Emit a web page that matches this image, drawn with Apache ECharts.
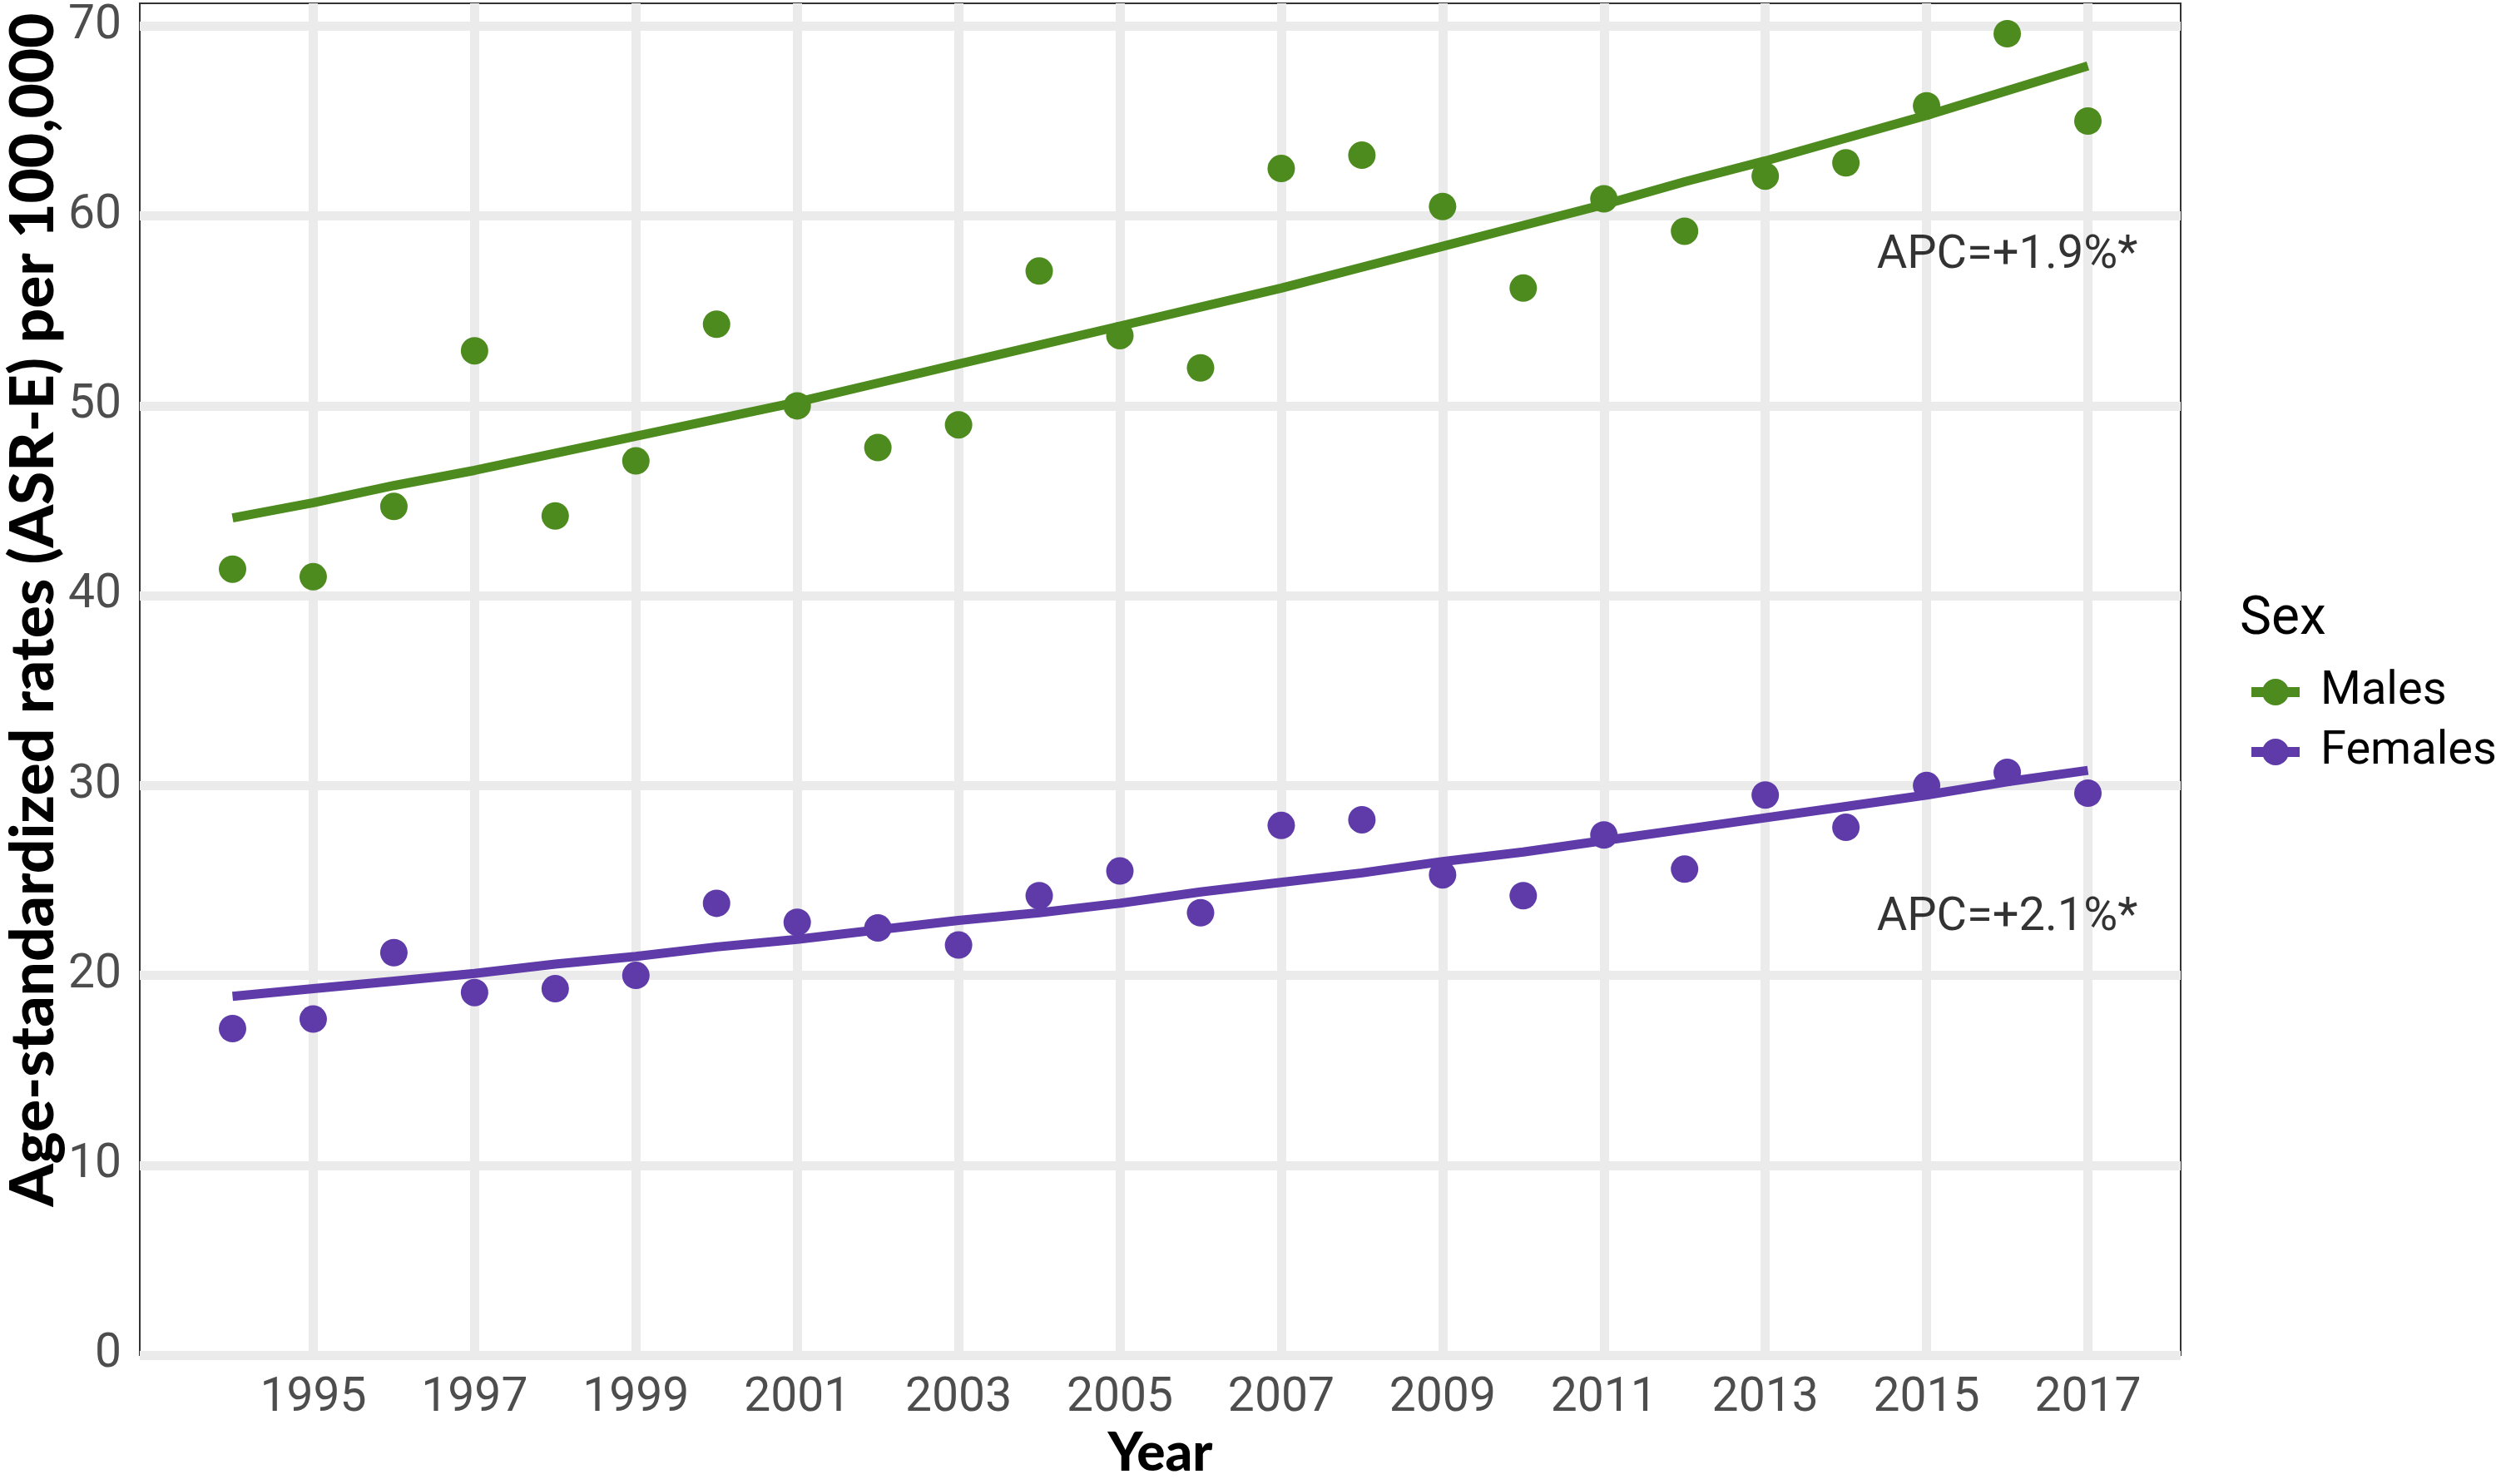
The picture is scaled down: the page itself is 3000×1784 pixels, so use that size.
<!DOCTYPE html>
<html>
<head>
<meta charset="utf-8">
<script src="https://cdn.jsdelivr.net/npm/echarts@6/dist/echarts.min.js"></script>
<style>
  html, body { margin: 0; padding: 0; background: #ffffff; }
  #chart { width: 3000px; height: 1784px; }
</style>
</head>
<body>
<div id="chart"></div>
<script>
// ---------- data ----------
const years = [1994, 1995, 1996, 1997, 1998, 1999, 2000, 2001, 2002, 2003, 2004, 2005,
               2006, 2007, 2008, 2009, 2010, 2011, 2012, 2013, 2014, 2015, 2016, 2017];
const malesObserved = [41.4, 41.0, 44.7, 52.9, 44.2, 47.1, 54.3, 50.0, 47.8, 49.0, 57.1, 53.7,
                       52.0, 62.5, 63.2, 60.5, 56.2, 60.9, 59.2, 62.1, 62.8, 65.8, 69.6, 65.0];
const femalesObserved = [17.2, 17.7, 21.2, 19.1, 19.3, 20.0, 23.8, 22.8, 22.5, 21.6, 24.2, 25.5,
                         23.3, 27.9, 28.2, 25.3, 24.2, 27.4, 25.6, 29.5, 27.8, 30.0, 30.7, 29.6];
const malesFitted = [44.1, 44.9, 45.8, 46.6, 47.5, 48.4, 49.3, 50.2, 51.2, 52.2, 53.2, 54.2,
                     55.2, 56.2, 57.3, 58.4, 59.5, 60.6, 61.8, 62.9, 64.1, 65.3, 66.6, 67.9];
const femalesFitted = [18.9, 19.3, 19.7, 20.1, 20.6, 21.0, 21.5, 21.9, 22.4, 22.9, 23.3, 23.8,
                       24.4, 24.9, 25.4, 26.0, 26.5, 27.1, 27.7, 28.3, 28.9, 29.5, 30.2, 30.8];
const seriesNames = ['Males', 'Females'];
const xTickLabels = [1995, 1997, 1999, 2001, 2003, 2005, 2007, 2009, 2011, 2013, 2015, 2017];
const yTickLabels = [0, 10, 20, 30, 40, 50, 60, 70];
const apcTexts = ['APC=+1.9%*', 'APC=+2.1%*'];
const apcX = [2016, 2016];
const apcY = [57.9, 23];
const legendTitle = 'Sex';
const xTitle = 'Year';
const yTitle = 'Age-standardized rates (ASR-E) per 100,000';

// ---------- styling ----------
const colors = ['#4d8b1f', '#5e3ba9'];
const gridColor = '#ebebeb';
const tickColor = '#4d4d4d';

const pairs = (xs, ys) => xs.map((x, i) => [x, ys[i]]);

const chart = echarts.init(document.getElementById('chart'), null, { renderer: 'canvas' });

const option = {
  backgroundColor: '#ffffff',
  animation: false,
  grid: {
    left: 168, right: 379, top: 4, bottom: 136,
    show: true, borderColor: '#333333', borderWidth: 2, backgroundColor: 'transparent'
  },
  xAxis: {
    type: 'value',
    min: 1992.85, max: 2018.15,
    name: xTitle,
    nameLocation: 'middle',
    nameGap: 79,
    nameTextStyle: { fontFamily: 'Lato', fontWeight: 900, fontSize: 64, color: '#000000' },
    axisLine: { show: false },
    axisTick: { show: false, customValues: xTickLabels },
    axisLabel: {
      customValues: xTickLabels,
      fontFamily: 'Roboto', fontSize: 57, color: tickColor, margin: 24,
      formatter: v => String(v)
    },
    splitLine: { show: true, lineStyle: { color: gridColor, width: 11 } }
  },
  yAxis: {
    type: 'value',
    min: 0, max: 71.2,
    axisLine: { show: false },
    axisTick: { show: false, customValues: yTickLabels },
    axisLabel: {
      customValues: yTickLabels,
      fontFamily: 'Roboto', fontSize: 57, color: tickColor, margin: 22,
      formatter: v => String(v)
    },
    splitLine: { show: true, lineStyle: { color: gridColor, width: 11 } }
  },
  legend: {
    data: seriesNames,
    orient: 'vertical',
    left: 2700,
    top: 804,
    padding: 0,
    itemWidth: 58,
    itemHeight: 40,
    itemGap: 16,
    lineStyle: { width: 12 },
    textStyle: { fontFamily: 'Roboto', fontSize: 56, color: '#000000', lineHeight: 56, padding: [0, 0, 0, 20] }
  },
  graphic: [
    {
      type: 'text', x: 40, y: 733, rotation: Math.PI / 2,
      style: { text: yTitle, fontFamily: 'Lato', fontWeight: 900, fontSize: 73, fill: '#000000',
               textAlign: 'center', textVerticalAlign: 'middle' }
    },
    {
      type: 'text', x: 2692, y: 746,
      style: { text: legendTitle, fontFamily: 'Roboto', fontSize: 64, fill: '#000000',
               textAlign: 'left', textVerticalAlign: 'middle' }
    }
  ],
  series: [
    {
      name: 'Males observed', type: 'scatter', data: pairs(years, malesObserved),
      symbol: 'circle', symbolSize: 33, itemStyle: { color: colors[0], opacity: 1 }, z: 2
    },
    {
      name: 'Females observed', type: 'scatter', data: pairs(years, femalesObserved),
      symbol: 'circle', symbolSize: 33, itemStyle: { color: colors[1], opacity: 1 }, z: 2
    },
    {
      name: seriesNames[0], type: 'line', data: pairs(years, malesFitted),
      symbol: 'circle', showSymbol: false, smooth: false,
      lineStyle: { color: colors[0], width: 11 }, itemStyle: { color: colors[0] }, z: 3
    },
    {
      name: seriesNames[1], type: 'line', data: pairs(years, femalesFitted),
      symbol: 'circle', showSymbol: false, smooth: false,
      lineStyle: { color: colors[1], width: 11 }, itemStyle: { color: colors[1] }, z: 3
    },
    {
      name: 'APC', type: 'scatter', symbolSize: 0, silent: true,
      data: apcTexts.map((t, i) => ({ value: [apcX[i], apcY[i]], label: { formatter: t } })),
      label: { show: true, position: 'inside', fontFamily: 'Roboto', fontSize: 56, color: '#000000' },
      z: 4
    }
  ]
};

chart.setOption(option);
</script>
</body>
</html>
